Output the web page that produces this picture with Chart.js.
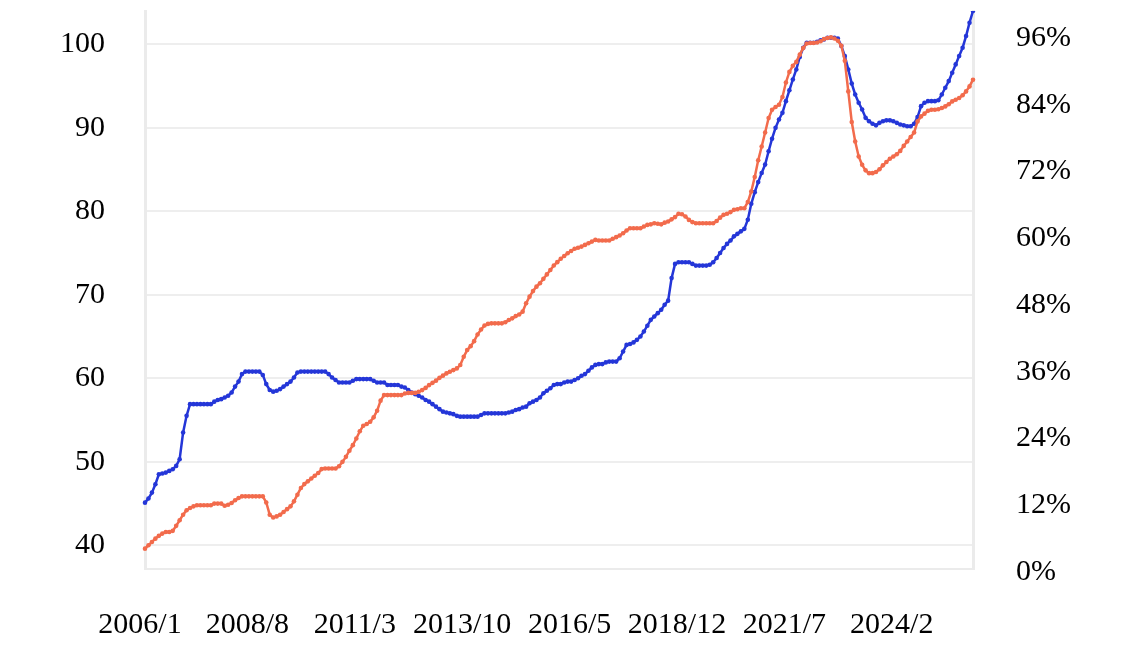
<!DOCTYPE html>
<html>
<head>
<meta charset="utf-8">
<script src="https://cdn.jsdelivr.net/npm/chart.js@4/dist/chart.umd.min.js"></script>
<style>
  html, body { margin: 0; padding: 0; background: #fff; }
  #wrap { width: 1146px; height: 653px; }
</style>
</head>
<body>
<div id="wrap"><canvas id="chart" width="1146" height="653"></canvas></div>
<script>
// monthly labels 2006/1 .. 2025/12
let months = [];
for (let y = 2006; y <= 2025; y++) {
    for (let m = 1; m <= 12; m++) months.push(y + '/' + m);
}

// left axis series (index level)
let blueValues = [
    45.1, 45.6, 46.3, 47.3, 48.5, 48.6, 48.7, 48.9, 49.1, 49.5,
    50.3, 53.5, 55.5, 56.9, 56.9, 56.9, 56.9, 56.9, 56.9, 56.9,
    57.2, 57.4, 57.5, 57.7, 57.9, 58.3, 59.0, 59.6, 60.5, 60.8,
    60.8, 60.8, 60.8, 60.8, 60.4, 59.3, 58.6, 58.4, 58.5, 58.7,
    59.0, 59.3, 59.6, 60.1, 60.7, 60.8, 60.8, 60.8, 60.8, 60.8,
    60.8, 60.8, 60.8, 60.5, 60.1, 59.8, 59.5, 59.5, 59.5, 59.5,
    59.7, 59.9, 59.9, 59.9, 59.9, 59.9, 59.7, 59.5, 59.5, 59.5,
    59.2, 59.2, 59.2, 59.2, 59.0, 58.9, 58.6, 58.3, 58.1, 57.9,
    57.7, 57.4, 57.2, 56.9, 56.6, 56.3, 56.0, 55.9, 55.8, 55.7,
    55.5, 55.4, 55.4, 55.4, 55.4, 55.4, 55.4, 55.6, 55.8, 55.8,
    55.8, 55.8, 55.8, 55.8, 55.8, 55.9, 56.0, 56.2, 56.3, 56.5,
    56.6, 57.0, 57.2, 57.4, 57.7, 58.2, 58.5, 58.8, 59.2, 59.3,
    59.3, 59.5, 59.6, 59.6, 59.8, 60.0, 60.3, 60.5, 60.9, 61.3,
    61.6, 61.7, 61.7, 61.9, 62.0, 62.0, 62.0, 62.4, 63.2, 64.0,
    64.1, 64.3, 64.6, 65.0, 65.6, 66.3, 67.0, 67.4, 67.8, 68.2,
    68.8, 69.3, 72.0, 73.7, 73.9, 73.9, 73.9, 73.9, 73.7, 73.5,
    73.5, 73.5, 73.5, 73.6, 73.9, 74.4, 75.0, 75.6, 76.1, 76.5,
    77.0, 77.3, 77.6, 77.9, 79.0, 80.9, 82.3, 83.5, 84.6, 85.6,
    87.2, 88.7, 90.0, 91.0, 91.8, 93.2, 94.5, 95.8, 97.0, 98.5,
    99.6, 100.2, 100.2, 100.2, 100.3, 100.5, 100.6, 100.8, 100.8, 100.8,
    100.7, 99.8, 98.6, 97.0, 95.3, 94.0, 93.0, 92.2, 91.2, 90.8,
    90.5, 90.3, 90.6, 90.8, 90.9, 90.9, 90.8, 90.6, 90.4, 90.3,
    90.2, 90.2, 90.5, 91.3, 92.6, 93.0, 93.2, 93.2, 93.2, 93.3,
    94.0, 94.8, 95.6, 96.6, 97.6, 98.6, 99.6, 101.0, 102.6, 104.0
];

// right axis series (percent)
let orangeValues = [
    4.2, 4.8, 5.4, 6.0, 6.5, 6.9, 7.2, 7.2, 7.4, 8.3,
    9.3, 10.3, 11.1, 11.5, 11.8, 12.0, 12.0, 12.0, 12.0, 12.0,
    12.3, 12.3, 12.3, 11.9, 12.1, 12.4, 12.9, 13.3, 13.6, 13.6,
    13.6, 13.6, 13.6, 13.6, 13.6, 12.5, 10.3, 9.8, 10.0, 10.3,
    10.8, 11.3, 11.8, 12.7, 13.9, 15.1, 15.8, 16.3, 16.8, 17.3,
    17.8, 18.5, 18.6, 18.6, 18.6, 18.6, 19.0, 19.8, 20.7, 21.8,
    22.8, 24.0, 25.3, 26.3, 26.6, 27.0, 27.8, 29.0, 30.8, 31.8,
    31.8, 31.8, 31.8, 31.8, 31.8, 32.1, 32.2, 32.2, 32.2, 32.4,
    32.7, 33.1, 33.6, 34.0, 34.4, 34.9, 35.3, 35.7, 36.0, 36.3,
    36.6, 37.2, 38.7, 39.9, 40.6, 41.5, 42.7, 43.6, 44.3, 44.6,
    44.7, 44.7, 44.7, 44.7, 44.9, 45.3, 45.6, 46.0, 46.3, 46.8,
    48.3, 49.5, 50.5, 51.3, 51.9, 52.7, 53.5, 54.3, 55.1, 55.7,
    56.3, 56.8, 57.3, 57.7, 58.1, 58.3, 58.5, 58.8, 59.1, 59.4,
    59.7, 59.6, 59.6, 59.6, 59.6, 59.9, 60.2, 60.5, 60.9, 61.4,
    61.8, 61.8, 61.8, 61.8, 62.1, 62.4, 62.5, 62.7, 62.6, 62.5,
    62.8, 63.0, 63.4, 63.8, 64.4, 64.3, 63.9, 63.3, 62.9, 62.7,
    62.7, 62.7, 62.7, 62.7, 62.7, 63.1, 63.7, 64.2, 64.4, 64.7,
    65.1, 65.2, 65.4, 65.4, 66.5, 68.4, 71.0, 74.0, 76.5, 79.0,
    81.6, 83.1, 83.6, 84.0, 85.4, 88.0, 89.9, 91.0, 91.7, 93.0,
    94.2, 95.0, 95.1, 95.1, 95.2, 95.4, 95.8, 96.0, 96.1, 95.9,
    95.5, 94.6, 91.9, 86.4, 80.9, 77.4, 74.7, 73.2, 72.2, 71.7,
    71.7, 71.9, 72.4, 73.1, 73.7, 74.3, 74.7, 75.1, 75.7, 76.6,
    77.4, 78.2, 79.0, 81.0, 81.9, 82.4, 82.9, 83.1, 83.1, 83.2,
    83.4, 83.7, 84.1, 84.6, 84.9, 85.2, 85.7, 86.4, 87.3, 88.5
];

let leftTicks = [40, 50, 60, 70, 80, 90, 100];
let rightTicks = [0, 12, 24, 36, 48, 60, 72, 84, 96];
let labelStep = 31;

let tickFont = { family: 'Liberation Serif', size: 30 };
let lineGray = '#ebebeb';

function noPad(s) {
    s.paddingTop = 0;
    s.paddingBottom = 0;
    s.paddingLeft = 0;
    s.paddingRight = 0;
}

let ctx = document.getElementById('chart').getContext('2d');
new Chart(ctx, {
    type: 'line',
    data: {
        labels: months,
        datasets: [{
            data: orangeValues,
            yAxisID: 'y1',
            borderColor: '#f26b4c',
            backgroundColor: '#f26b4c',
            borderWidth: 2.5,
            pointRadius: 2.3,
            pointBorderWidth: 0,
            tension: 0
        }, {
            data: blueValues,
            yAxisID: 'y',
            borderColor: '#2436d8',
            backgroundColor: '#2436d8',
            borderWidth: 2.5,
            pointRadius: 2.3,
            pointBorderWidth: 0,
            tension: 0
        }]
    },
    options: {
        responsive: false,
        animation: false,
        layout: { padding: { top: 11, left: 0, right: 0, bottom: 0 } },
        plugins: { legend: { display: false }, tooltip: { enabled: false } },
        scales: {
            x: {
                grid: { display: false, drawTicks: false },
                border: { display: true, color: lineGray, width: 2 },
                ticks: {
                    autoSkip: false,
                    maxRotation: 0,
                    padding: 38,
                    labelOffset: -5,
                    color: '#000',
                    font: tickFont,
                    callback: function (v, i) {
                        return i % labelStep === 0 ? months[i] : null;
                    }
                },
                afterFit: function (s) { s.height = 84; noPad(s); }
            },
            y: {
                position: 'left',
                min: 37.15,
                max: 104,
                afterBuildTicks: function (s) {
                    s.ticks = leftTicks.map(v => ({ value: v }));
                },
                grid: { color: '#eeeeee', lineWidth: 2, drawTicks: false },
                border: { color: lineGray, width: 3 },
                ticks: { padding: 40, color: '#000', font: tickFont },
                afterFit: function (s) { s.width = 145; noPad(s); }
            },
            y1: {
                position: 'right',
                min: 0.54,
                max: 100.85,
                afterBuildTicks: function (s) {
                    s.ticks = rightTicks.map(v => ({ value: v }));
                },
                grid: { display: false, drawTicks: false },
                border: { color: lineGray, width: 3 },
                ticks: {
                    padding: 43,
                    color: '#000',
                    font: tickFont,
                    callback: v => v + '%'
                },
                afterFit: function (s) { s.width = 173; noPad(s); }
            }
        }
    }
});
</script>
</body>
</html>
